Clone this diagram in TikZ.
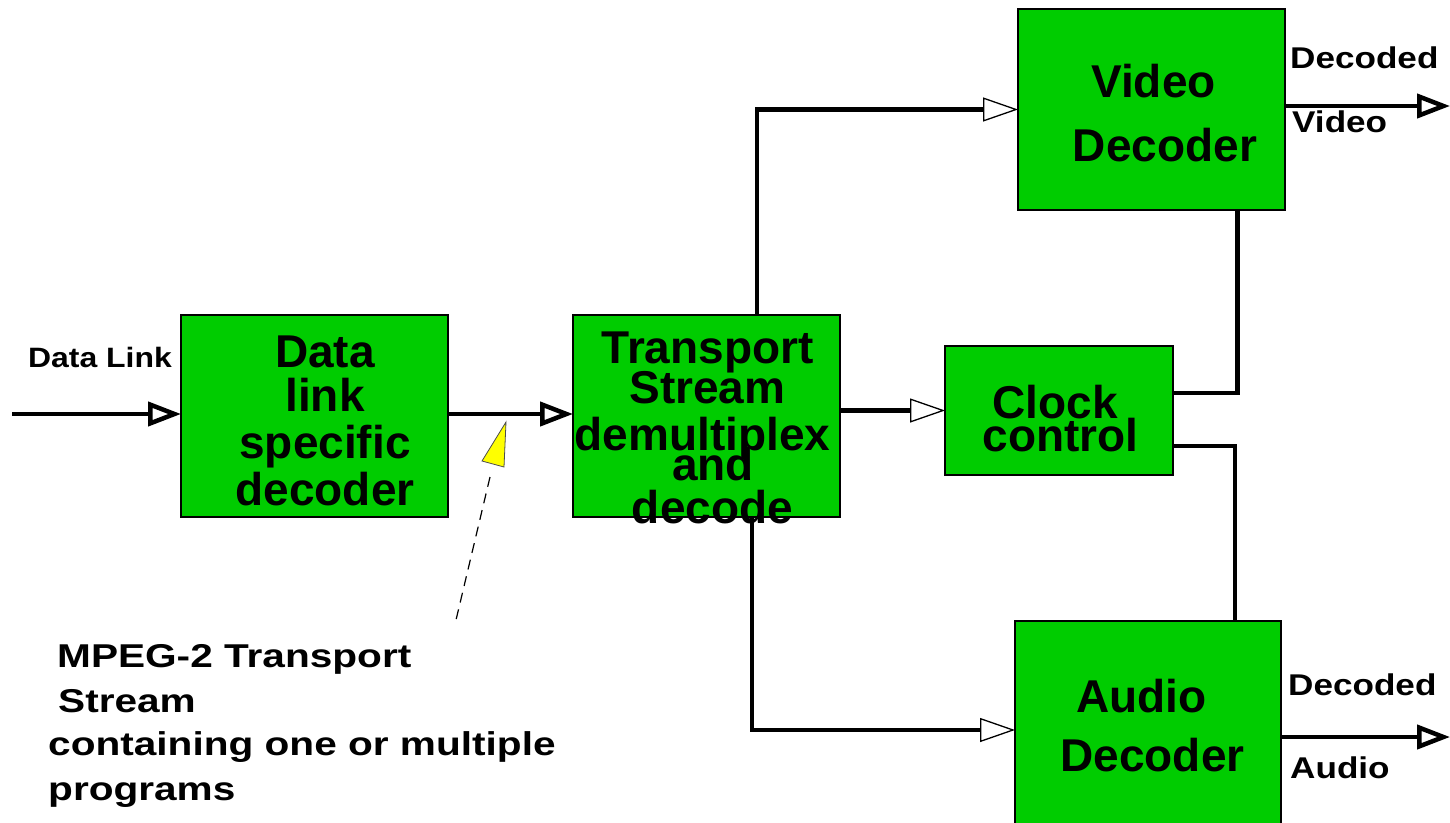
\documentclass[tikz,border=0pt]{standalone}
\usepackage{fontspec}
\setmainfont{Liberation Sans}
\usetikzlibrary{arrows.meta}
\definecolor{boxgreen}{RGB}{0,204,0}
\definecolor{callout}{RGB}{255,255,0}
\begin{document}
\begin{tikzpicture}[x=1pt,y=-1pt,
 box/.style={draw=black, line width=1.2pt, fill=boxgreen, inner sep=0pt, outer sep=0pt},
 wire/.style={line width=4.5pt},
 bighead/.style={wire, -{Triangle[open, length=33pt, width=24pt]}},
 smallhead/.style={wire, -{Triangle[fill=white, line width=1.3pt, length=35pt, width=24pt]}},
 big/.style={font=\fontsize{46}{46}\selectfont\bfseries, inner sep=0pt, anchor=base},
 small/.style={font=\fontsize{30}{30}\selectfont\bfseries, inner sep=0pt, anchor=base west},
 tiny/.style={font=\fontsize{28}{28}\selectfont\bfseries, inner sep=0pt, anchor=base west},
 note/.style={font=\fontsize{33}{33}\selectfont\bfseries, inner sep=0pt, anchor=base west},
]
\useasboundingbox (0,0) rectangle (1450,822);

% boxes
\node[box, minimum width=267pt, minimum height=202pt] (dl) at (314.5,416) {};
\node[box, minimum width=267pt, minimum height=202pt] (ts) at (706.5,416) {};
\node[box, minimum width=267pt, minimum height=201pt] (vd) at (1151.5,109.5) {};
\node[box, minimum width=228pt, minimum height=129pt] (ck) at (1059,410.5) {};
\node[box, minimum width=266pt, minimum height=215pt] (ad) at (1148,728.5) {};

% connectors
\coordinate (in) at (12,414);
\draw[bighead] (in) -- (dl.west |- in);
\draw[bighead] (dl.east |- in) -- (ts.west |- in);
\draw[smallhead] (ts.east |- ck) -- (ck.west);
\draw[smallhead] ([xshift=50.5pt]ts.north) |- (vd.west);
\draw[smallhead] ([xshift=45.5pt]ts.south) |- ([yshift=-1.5pt]ad.west);
\draw[wire] ([yshift=17.5pt]ck.east) -| ([xshift=86pt]vd.south);
\draw[wire] ([yshift=-35.5pt]ck.east) -| ([xshift=87pt]ad.north);
\coordinate (vo) at (1450,106);
\draw[bighead] (vd.east |- vo) -- (vo);
\coordinate (ao) at (1450,737);
\draw[bighead] (ad.east |- ao) -- (ao);

% callout
\coordinate (p1) at (506,422);
\coordinate (p2) at (482,461);
\coordinate (p3) at (504,467);
\draw[fill=callout, line width=0.8pt, draw=black!70] (p1) -- (p2) -- (p3) -- cycle;
\coordinate (d1) at (490,477);
\coordinate (d2) at (456,620);
\draw[line width=1.2pt, dash pattern=on 10pt off 7pt] (d1) -- (d2);

% box texts
\node[big] (dl1) at (325,367) {Data};
\node[big] (dl2) at (325,411) {link};
\node[big] (dl3) at (325,458) {specific};
\node[big] (dl4) at (325,505) {decoder};
\node[big] (ts1) at (707.5,363) {Transport};
\node[big] (ts2) at (707.5,403) {Stream};
\node[big] (ts3) at (702.5,450) {demultiplex};
\node[big] (ts4) at (713,480) {and};
\node[big] (ts5) at (712.5,523) {decode};
\node[big] (vd1) at (1153.5,97) {Video};
\node[big] (vd2) at (1165,161) {Decoder};
\node[big] (ck1) at (1055,418) {Clock};
\node[big] (ck2) at (1060.5,451) {control};
\node[big] (ad1) at (1141.5,712) {Audio};
\node[big] (ad2) at (1152.5,771) {Decoder};

% labels
\node[tiny] (lin) at (28,367) {\scalebox{1.14}[1]{Data Link}};
\node[small] (lv1) at (1290,68) {\scalebox{1.17}[1]{Decoded}};
\node[small] (lv2) at (1292,132) {\scalebox{1.17}[1]{Video}};
\node[small] (la1) at (1288,695) {\scalebox{1.17}[1]{Decoded}};
\node[small] (la2) at (1290,778) {\scalebox{1.17}[1]{Audio}};
\node[note] (n1) at (57,667) {\scalebox{1.23}[1]{MPEG-2 Transport}};
\node[note] (n2) at (58,712) {\scalebox{1.23}[1]{Stream}};
\node[note] (n3) at (48,755) {\scalebox{1.23}[1]{containing one or multiple}};
\node[note] (n4) at (48,800) {\scalebox{1.23}[1]{programs}};
\end{tikzpicture}
\end{document}
